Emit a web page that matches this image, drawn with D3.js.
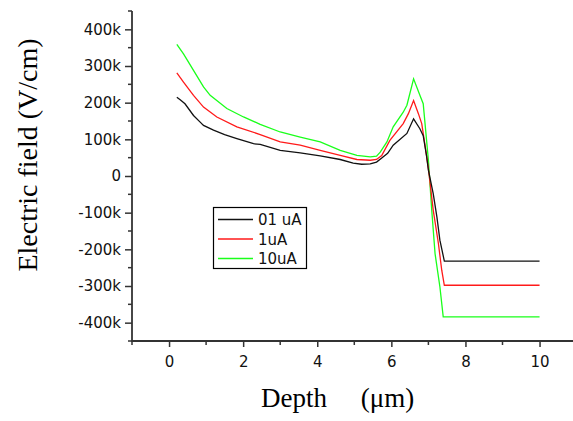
<!DOCTYPE html>
<html>
<head>
<meta charset="utf-8">
<script src="https://cdn.jsdelivr.net/npm/d3@7"></script>
<style>
  body { margin: 0; background: #fff; }
  .tick text { font-family: "DejaVu Sans", sans-serif; font-size: 15px; fill: #111; }
  .label { font-family: "Liberation Serif", "Times New Roman", serif; font-size: 27px; fill: #000; }
  .legend text { font-family: "DejaVu Sans", sans-serif; font-size: 15px; fill: #111; }
</style>
</head>
<body>
<svg id="chart" width="573" height="421"></svg>
<script>
// electric field (kV/cm) vs depth (um)
let depth01 = [0.21, 0.30, 0.43, 0.66, 0.84, 0.93, 1.2, 1.5, 1.83, 2.28, 2.46, 3.0, 3.54, 4.08, 4.62, 4.97, 5.2, 5.43, 5.6, 5.75, 5.9, 6.05, 6.42, 6.6, 6.77, 6.86, 6.95, 7.0, 7.13, 7.23, 7.31, 7.43, 10];
let field01 = [215, 208, 197, 165, 147, 138, 125, 113, 102, 88, 86, 70, 63, 55, 45, 35, 32, 33, 38, 50, 62, 84, 116, 156, 129, 110, 55, 16, -48, -112, -175, -232, -232];

let depth1 = [0.21, 0.39, 0.66, 0.93, 1.29, 1.83, 2.46, 3.0, 3.54, 4.08, 4.62, 5.07, 5.43, 5.6, 5.74, 5.96, 6.32, 6.46, 6.6, 6.73, 6.82, 6.9, 7.0, 7.13, 7.27, 7.36, 7.43, 10];
let field1 = [281, 256, 220, 188, 161, 134, 113, 93, 84, 70, 56, 45, 43, 45, 56, 97, 143, 170, 206, 170, 143, 90, 20, -93, -184, -257, -298, -298];

let depth10 = [0.21, 0.39, 0.66, 0.93, 1.11, 1.56, 2.01, 2.46, 3.0, 3.54, 4.08, 4.62, 5.07, 5.43, 5.6, 5.7, 5.88, 6.05, 6.32, 6.42, 6.6, 6.77, 6.86, 7.0, 7.09, 7.18, 7.31, 7.4, 10];
let field10 = [359, 333, 288, 243, 220, 184, 161, 141, 120, 106, 93, 70, 56, 52, 54, 65, 93, 134, 174, 193, 265, 220, 197, 43, -93, -212, -302, -384, -384];

let seriesNames = ["01 uA", "1uA", "10uA"];
let seriesColors = ["#111111", "#ff1a1a", "#1aff1a"];

let xMajor = [0, 2, 4, 6, 8, 10];
let xMinor = [-1, 1, 3, 5, 7, 9, 11];
let yMajor = [-400, -300, -200, -100, 0, 100, 200, 300, 400];
let yMinor = [-450, -350, -250, -150, -50, 50, 150, 250, 350, 450];

let svg = d3.select("svg#chart");
let margin = {left: 132, top: 11, bottom: 341};

let x = d3.scaleLinear().domain([-1, 11]).range([margin.left, 576.6]);
let y = d3.scaleLinear().domain([-450, 450]).range([margin.bottom, margin.top]);

function yFormat(d) { return d === 0 ? "0" : (d < 0 ? "-" : "") + Math.abs(d) + "k"; }

function drawAxes() {
  let xAxis = svg.append("g")
    .attr("transform", "translate(0," + margin.bottom + ")")
    .call(d3.axisBottom(x).tickValues(xMajor).tickSize(6).tickPadding(9).tickFormat(d3.format("d")));
  xAxis.append("g").selectAll("line").data(xMinor)
    .enter().append("line")
      .attr("x1", function(d) { return x(d); })
      .attr("x2", function(d) { return x(d); })
      .attr("y1", 0).attr("y2", 4);

  let yAxis = svg.append("g")
    .attr("transform", "translate(" + margin.left + ",0)")
    .call(d3.axisLeft(y).tickValues(yMajor).tickSize(7).tickPadding(4).tickFormat(yFormat));
  yAxis.append("g").selectAll("line").data(yMinor)
    .enter().append("line")
      .attr("y1", function(d) { return y(d); })
      .attr("y2", function(d) { return y(d); })
      .attr("x1", 0).attr("x2", -4);

  svg.selectAll(".domain").remove();
  svg.selectAll("g line").attr("stroke", "#333").attr("stroke-width", 1.5);

  svg.append("line")
    .attr("x1", margin.left).attr("x2", margin.left)
    .attr("y1", margin.top).attr("y2", margin.bottom + 0.75)
    .attr("stroke", "#333").attr("stroke-width", 1.8);
  svg.append("line")
    .attr("x1", margin.left).attr("x2", 573)
    .attr("y1", margin.bottom).attr("y2", margin.bottom)
    .attr("stroke", "#333").attr("stroke-width", 1.8);
}

function drawLines() {
  let sets = [[depth10, field10, 2], [depth1, field1, 1], [depth01, field01, 0]];
  let line = d3.line()
    .x(function(d) { return x(d[0]); })
    .y(function(d) { return y(d[1]); });

  for (let s of sets) {
    let pts = s[0].map(function(d, i) { return [d, s[1][i]]; });
    svg.append("path")
      .attr("d", line(pts))
      .attr("fill", "none")
      .attr("stroke", seriesColors[s[2]])
      .attr("stroke-width", 1.3);
  }
}

function drawLegend() {
  let g = svg.append("g").attr("class", "legend");
  g.append("rect")
    .attr("x", 213.5).attr("y", 207.5)
    .attr("width", 93).attr("height", 61)
    .attr("fill", "#fff").attr("stroke", "#000").attr("stroke-width", 1.2);

  let items = g.selectAll("g.item").data(seriesNames)
    .enter().append("g").attr("class", "item")
      .attr("transform", function(d, i) { return "translate(0," + (219.5 + 19.5 * i) + ")"; });
  items.append("line")
    .attr("x1", 218).attr("x2", 253)
    .attr("stroke", function(d, i) { return seriesColors[i]; })
    .attr("stroke-width", 1.3);
  items.append("text")
    .attr("x", 258).attr("y", 5.5)
    .text(function(d) { return d; });
}

function drawLabels() {
  svg.append("text")
    .attr("class", "label")
    .attr("transform", "translate(37,155) rotate(-90)")
    .attr("text-anchor", "middle")
    .style("font-size", "28px")
    .text("Electric field (V/cm)");

  svg.append("text")
    .attr("class", "label")
    .attr("x", 261).attr("y", 407)
    .style("white-space", "pre")
    .text("Depth     (\u03bcm)");
}

drawAxes();
drawLines();
drawLegend();
drawLabels();
</script>
</body>
</html>
